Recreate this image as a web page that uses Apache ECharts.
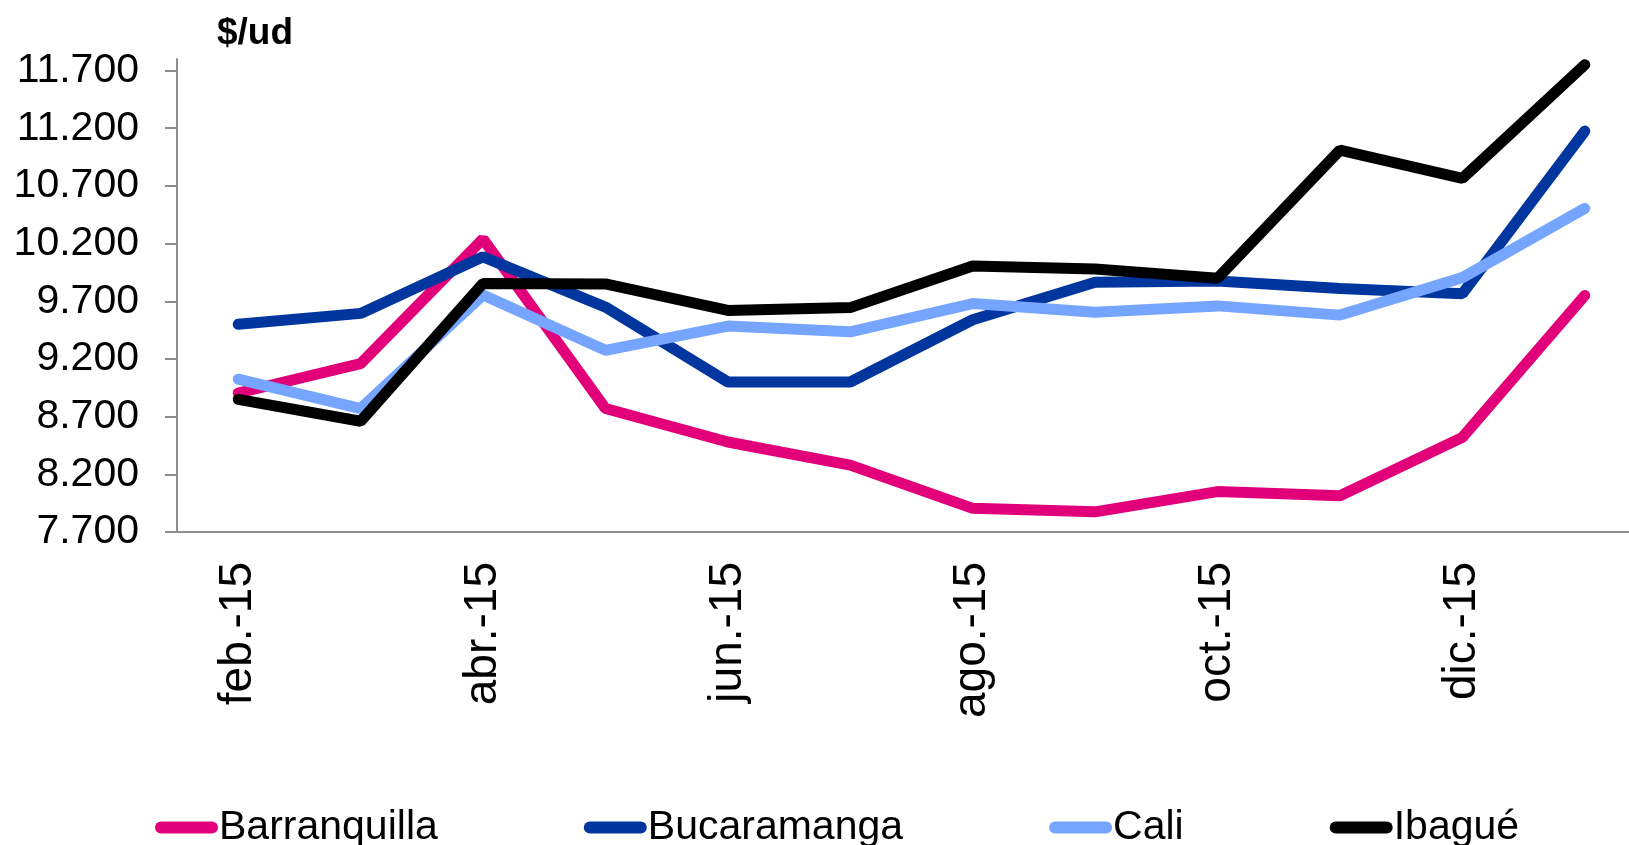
<!DOCTYPE html>
<html>
<head>
<meta charset="utf-8">
<script src="https://cdn.jsdelivr.net/npm/echarts@6/dist/echarts.min.js"></script>
<style>
html, body { margin: 0; padding: 0; background: #fff; }
#chart { width: 1629px; height: 845px; }
</style>
</head>
<body>
<div id="chart"></div>
<script>
var months = ['feb.-15', 'mar.-15', 'abr.-15', 'may.-15', 'jun.-15', 'jul.-15',
  'ago.-15', 'sep.-15', 'oct.-15', 'nov.-15', 'dic.-15', 'ene.-16']
var barranquilla = [8905, 9160, 10240, 8770, 8480, 8280, 7905, 7875, 8050, 8015, 8520, 9750]
var bucaramanga = [9500, 9595, 10085, 9650, 9000, 9000, 9540, 9865, 9875, 9810, 9765, 11175]
var cali = [9025, 8770, 9755, 9275, 9485, 9435, 9680, 9605, 9660, 9580, 9905, 10505]
var ibague = [8850, 8660, 9855, 9850, 9620, 9645, 10005, 9980, 9900, 11010, 10765, 11750]
var yTicks = [7700, 8200, 8700, 9200, 9700, 10200, 10700, 11200, 11700]

var font = '"Liberation Sans", Arial, sans-serif'

function miles (v) {
  return String(v).replace(/\B(?=(\d{3})+(?!\d))/g, '.')
}

function serie (name, data, color) {
  return {
    name: name,
    type: 'line',
    data: data,
    symbol: 'none',
    color: color,
    lineStyle: { width: 11, color: color, cap: 'round' }
  }
}

var chart = echarts.init(document.getElementById('chart'))
chart.setOption({
  animation: false,
  textStyle: { fontFamily: font },
  title: {
    text: '$/ud',
    left: 212,
    top: 10,
    textStyle: { fontFamily: font, fontSize: 37, fontWeight: 'bold', color: '#000' }
  },
  legend: {
    left: 150,
    top: 802,
    itemGap: 146,
    itemWidth: 63,
    itemHeight: 12,
    icon: 'path://M6,0 L57,0 A6,6 0 0 1 57,12 L6,12 A6,6 0 0 1 6,0 Z',
    textStyle: { fontFamily: font, fontSize: 41, color: '#000', padding: [0, 0, 0, -4] },
    data: ['Barranquilla', 'Bucaramanga', 'Cali', 'Ibagué']
  },
  grid: {
    left: 177,
    right: -17,
    top: 59,
    bottom: 313,
    containLabel: false,
    outerBoundsMode: 'none'
  },
  xAxis: {
    type: 'category',
    data: months,
    boundaryGap: true,
    axisLine: { lineStyle: { color: '#8c8c8c', width: 2 } },
    axisTick: { show: false },
    axisLabel: {
      interval: 1,
      rotate: 90,
      margin: 30,
      fontSize: 46,
      color: '#000',
      fontFamily: font
    },
    splitLine: { show: false }
  },
  yAxis: {
    type: 'value',
    min: 7700,
    max: 11800,
    axisLine: { show: true, lineStyle: { color: '#8c8c8c', width: 2 } },
    axisTick: {
      show: true,
      length: 12,
      customValues: yTicks,
      lineStyle: { color: '#8c8c8c', width: 2 }
    },
    axisLabel: {
      customValues: yTicks,
      margin: 38,
      fontSize: 41,
      color: '#000',
      fontFamily: font,
      formatter: miles
    },
    splitLine: { show: false }
  },
  series: [
    serie('Barranquilla', barranquilla, '#e2007a'),
    serie('Bucaramanga', bucaramanga, '#00369e'),
    serie('Cali', cali, '#75a5ff'),
    serie('Ibagué', ibague, '#000000')
  ]
})
</script>
</body>
</html>
